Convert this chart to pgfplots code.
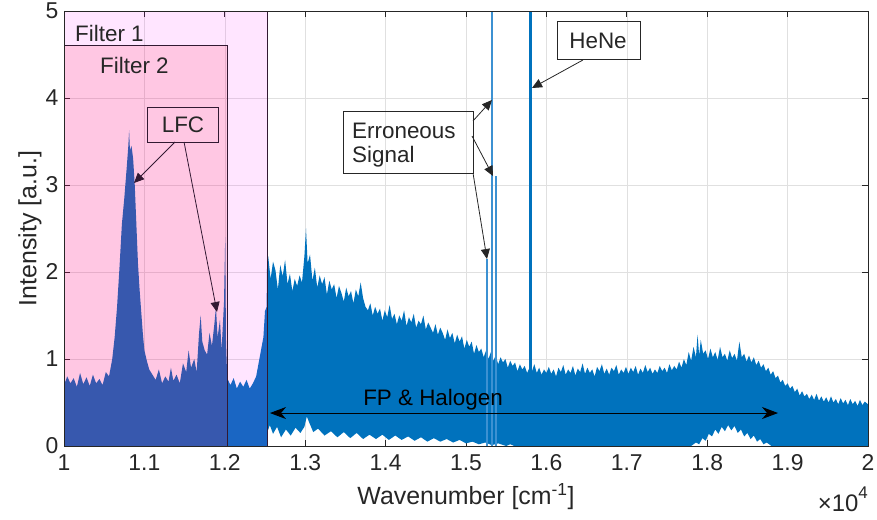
\documentclass[border=0pt]{standalone}
\usepackage{fontspec}
\setmainfont{Liberation Sans}
\usepackage{pgfplots}
\pgfplotsset{compat=1.18}
\usetikzlibrary{arrows.meta}
\definecolor{mblue}{RGB}{0,114,189}
\definecolor{lblue}{RGB}{60,145,210}
\definecolor{axc}{RGB}{38,38,38}
\definecolor{fbord}{RGB}{50,25,50}
\definecolor{fmag}{RGB}{255,0,255}
\definecolor{fred}{RGB}{255,0,40}
\begin{document}
\begin{tikzpicture}
\begin{axis}[
  scale only axis, width=804bp, height=435bp,
  xmin=1, xmax=2, ymin=0, ymax=5,
  xtick={1,1.1,1.2,1.3,1.4,1.5,1.6,1.7,1.8,1.9,2},
  xticklabels={1,1.1,1.2,1.3,1.4,1.5,1.6,1.7,1.8,1.9,2},
  ytick={0,1,2,3,4,5},
  yticklabels={0,1,2,3,4,5},
  grid=major, major grid style={draw=black!12, line width=0.6bp},
  tick align=inside,
  axis line style={draw=axc, line width=0.8bp},
  major tick style={draw=axc, line width=0.8bp},
  major tick length=6bp,
  tick label style={font=\fontsize{23}{27}\selectfont, text=axc},
  xticklabel style={yshift=-5bp},
  yticklabel style={xshift=-2bp},
  xlabel={Wavenumber [cm\textsuperscript{-1}]},
  ylabel={Intensity [a.u.]},
  label style={font=\fontsize{25}{30}\selectfont, text=axc},
  xlabel style={at={(axis description cs:0.5,-0.117)}, anchor=center},
  ylabel style={at={(axis description cs:-0.0423,0.5)}, anchor=center},
  clip mode=individual,
]
% spectrum (upper envelope, then lower envelope back)
\addplot[draw=none, fill=mblue] coordinates {
(1.000,0) (1.000,0.70) (1.004,0.80) (1.008,0.72) (1.012,0.78) (1.016,0.68) (1.020,0.84) (1.024,0.71) (1.028,0.79) (1.032,0.69) (1.036,0.82) (1.040,0.72) (1.044,0.77) (1.048,0.70) (1.052,0.85) (1.056,0.80)
(1.060,1.00) (1.063,1.25) (1.066,1.60) (1.069,2.05) (1.072,2.55) (1.075,2.85) (1.078,3.20) (1.080,3.45) (1.081,3.63) (1.082,3.40) (1.084,3.45) (1.086,3.30) (1.088,3.00) (1.090,2.55) (1.092,2.10) (1.094,1.80) (1.096,1.55) (1.098,1.30) (1.100,1.10) (1.103,0.98) (1.106,0.88) (1.110,0.82) (1.114,0.76) (1.118,0.88) (1.122,0.72) (1.126,0.80) (1.130,0.74) (1.133,0.90) (1.136,0.75) (1.140,0.82) (1.144,0.72) (1.148,0.95) (1.152,0.85) (1.155,1.10) (1.158,0.90) (1.162,1.00) (1.165,0.85) (1.168,1.30) (1.170,1.50) (1.172,1.20) (1.175,1.10) (1.178,1.05) (1.181,1.30) (1.184,1.15) (1.187,1.40) (1.189,1.60) (1.191,1.25) (1.194,1.45) (1.196,1.10) (1.199,1.65) (1.2005,2.40) (1.2015,1.20) (1.203,0.78) (1.207,0.70) (1.211,0.78) (1.215,0.66) (1.219,0.74) (1.223,0.68) (1.227,0.76) (1.231,0.66) (1.235,0.72) (1.239,0.80) (1.242,0.95) (1.245,1.10) (1.248,1.25) (1.250,1.55) (1.252,1.60)
(1.2525,2.05) (1.254,2.18) (1.257,1.92) (1.260,2.12) (1.263,2.02) (1.266,1.80) (1.269,2.08) (1.272,1.95) (1.275,2.14) (1.278,1.86) (1.281,1.98) (1.284,1.78) (1.287,1.92) (1.290,1.84) (1.293,1.96) (1.296,1.88) (1.299,2.18) (1.301,2.50) (1.303,2.10) (1.306,2.20) (1.309,1.90) (1.312,2.05) (1.315,1.82) (1.318,1.96) (1.321,1.86) (1.324,1.94) (1.327,1.74) (1.330,1.90) (1.333,1.80) (1.336,1.86) (1.339,1.70) (1.342,1.84) (1.345,1.76) (1.348,1.66) (1.351,1.82) (1.354,1.72) (1.357,1.78) (1.360,1.64) (1.363,1.80) (1.366,1.72) (1.369,1.88) (1.372,1.70) (1.375,1.60) (1.378,1.56) (1.381,1.64) (1.384,1.50) (1.387,1.60) (1.390,1.52) (1.393,1.58) (1.396,1.44) (1.399,1.56) (1.402,1.48) (1.405,1.62) (1.408,1.46) (1.411,1.52) (1.414,1.40) (1.417,1.50) (1.420,1.44) (1.423,1.56) (1.426,1.38) (1.429,1.48) (1.432,1.42) (1.435,1.52) (1.438,1.36) (1.441,1.44) (1.444,1.40) (1.447,1.50) (1.450,1.34) (1.453,1.42) (1.456,1.36) (1.459,1.30) (1.462,1.40) (1.465,1.28) (1.468,1.36) (1.471,1.30) (1.474,1.22) (1.477,1.34) (1.480,1.24) (1.483,1.30) (1.486,1.18) (1.489,1.28) (1.492,1.20) (1.495,1.26) (1.498,1.12) (1.501,1.22) (1.504,1.14) (1.507,1.20) (1.510,1.06) (1.513,1.16) (1.516,1.08) (1.519,1.12) (1.522,1.02) (1.525,1.10) (1.528,1.00) (1.531,1.08) (1.534,0.98) (1.537,1.04) (1.540,0.94) (1.543,1.02) (1.546,0.96) (1.549,1.00) (1.552,0.90) (1.555,0.98) (1.558,0.92) (1.561,0.96) (1.564,0.86) (1.567,0.94) (1.570,0.88) (1.573,0.92) (1.576,0.84) (1.579,0.90) (1.582,0.86) (1.585,0.94) (1.588,0.84) (1.591,0.90) (1.594,0.82) (1.597,0.88) (1.600,0.84)
(1.603,0.91) (1.606,0.83) (1.609,0.88) (1.612,0.80) (1.615,0.90) (1.618,0.85) (1.621,0.93) (1.624,0.82) (1.627,0.88) (1.630,0.84) (1.633,0.92) (1.636,0.81) (1.639,0.89) (1.642,0.85) (1.645,0.95) (1.648,0.83) (1.651,0.90) (1.654,0.84) (1.657,0.88) (1.660,0.80) (1.663,0.91) (1.666,0.86) (1.669,0.94) (1.672,0.83) (1.675,0.89) (1.678,0.82) (1.681,0.90) (1.684,0.86) (1.687,0.93) (1.690,0.82) (1.693,0.88) (1.696,0.84) (1.699,0.91) (1.702,0.83) (1.705,0.90) (1.708,0.85) (1.711,0.92) (1.714,0.82) (1.717,0.89) (1.720,0.84) (1.723,0.93) (1.726,0.85) (1.729,0.90) (1.732,0.83) (1.735,0.88) (1.738,0.84) (1.741,0.92) (1.744,0.86) (1.747,0.90) (1.750,0.84) (1.753,0.94) (1.756,0.87) (1.759,0.92) (1.762,0.88) (1.765,0.97) (1.768,0.90) (1.771,1.00) (1.774,0.93) (1.777,1.08) (1.780,0.98) (1.783,1.14) (1.786,1.02) (1.788,1.28) (1.790,1.04) (1.792,1.22) (1.795,1.06) (1.798,1.10) (1.801,1.00) (1.804,1.12) (1.807,1.02) (1.810,1.08) (1.813,0.99) (1.816,1.14) (1.819,1.02) (1.822,1.06) (1.825,0.98) (1.828,1.10) (1.831,1.01) (1.834,1.06) (1.837,0.98) (1.840,1.20) (1.843,1.02) (1.846,1.06) (1.849,0.97) (1.852,1.04) (1.855,0.96) (1.858,1.02) (1.861,0.93) (1.864,0.98) (1.867,0.90) (1.870,0.94) (1.873,0.86) (1.876,0.90) (1.879,0.82) (1.882,0.86) (1.885,0.78) (1.888,0.81) (1.891,0.73) (1.894,0.76) (1.897,0.69) (1.900,0.72) (1.903,0.66) (1.906,0.69) (1.909,0.62) (1.912,0.66) (1.915,0.58) (1.918,0.63) (1.921,0.57) (1.924,0.60) (1.927,0.54) (1.930,0.59) (1.933,0.53) (1.936,0.60) (1.939,0.52) (1.942,0.57) (1.945,0.51) (1.948,0.56) (1.951,0.50) (1.954,0.57) (1.957,0.50) (1.960,0.54) (1.963,0.48) (1.966,0.55) (1.969,0.49) (1.972,0.53) (1.975,0.47) (1.978,0.54) (1.981,0.48) (1.984,0.52) (1.987,0.46) (1.990,0.53) (1.993,0.47) (1.996,0.51) (2.000,0.48)
(2.000,0) (1.880,0) (1.874,0.04) (1.870,0.02) (1.866,0.08) (1.862,0.05) (1.858,0.12) (1.854,0.08) (1.850,0.15) (1.846,0.11) (1.842,0.19) (1.838,0.15) (1.834,0.23) (1.830,0.18) (1.826,0.24) (1.822,0.17) (1.818,0.22) (1.814,0.14) (1.810,0.19) (1.806,0.11) (1.802,0.14) (1.798,0.06) (1.794,0.09) (1.790,0.02) (1.786,0.04) (1.780,0) (1.560,0) (1.555,0.02) (1.550,0) (1.540,0.03) (1.532,0.01) (1.524,0.04) (1.516,0.02) (1.508,0.05) (1.500,0.03) (1.492,0.07) (1.484,0.04) (1.476,0.08) (1.468,0.05) (1.460,0.09) (1.452,0.05) (1.444,0.10) (1.436,0.06) (1.428,0.11) (1.420,0.07) (1.412,0.12) (1.404,0.07) (1.396,0.13) (1.388,0.08) (1.380,0.13) (1.372,0.08) (1.364,0.15) (1.356,0.09) (1.348,0.16) (1.340,0.10) (1.332,0.17) (1.324,0.12) (1.316,0.20) (1.310,0.16) (1.305,0.27) (1.302,0.34) (1.299,0.22) (1.294,0.15) (1.288,0.21) (1.282,0.12) (1.276,0.19) (1.270,0.10) (1.265,0.22) (1.260,0.14) (1.256,0.24) (1.2525,0.15) (1.2525,0) (1.000,0)
};
% erroneous signals and HeNe line
\addplot[lblue, line width=2bp] coordinates {(1.5265,0) (1.5265,2.15)};
\addplot[lblue, line width=2bp] coordinates {(1.5320,0) (1.5320,5)};
\addplot[lblue, line width=2bp] coordinates {(1.5370,0) (1.5370,3.10)};
\addplot[mblue, line width=2.4bp] coordinates {(1.5800,0) (1.5800,5)};
% filters
\fill[fmag, fill opacity=0.1] (axis cs:1,0) rectangle (axis cs:1.2525,5);
\fill[fred, fill opacity=0.13] (axis cs:1,0) rectangle (axis cs:1.203,4.6);
\draw[fbord, line width=0.9bp] (axis cs:1.2525,0) -- (axis cs:1.2525,5);
\draw[fbord, line width=0.9bp] (axis cs:1,4.6) -- (axis cs:1.203,4.6) -- (axis cs:1.203,0);
\node[anchor=west, font=\fontsize{22.5}{27}\selectfont, text=axc, inner sep=0] at (axis cs:1.0137,4.736) {Filter 1};
\node[anchor=west, font=\fontsize{22.5}{27}\selectfont, text=axc, inner sep=0] at (axis cs:1.0448,4.368) {Filter 2};
% LFC
\draw[fbord, line width=0.8bp] (axis cs:1.1032,3.897) rectangle (axis cs:1.1915,3.494);
\node[font=\fontsize{22.5}{27}\selectfont, text=axc, inner sep=0] at (axis cs:1.148,3.69) {LFC};
\draw[fbord, line width=0.8bp, -{Triangle[length=10bp,width=9bp]}] (axis cs:1.1381,3.494) -- (axis cs:1.0871,3.023);
\draw[fbord, line width=0.8bp, -{Triangle[length=10bp,width=9bp]}] (axis cs:1.1493,3.494) -- (axis cs:1.1903,1.54);
% Erroneous signal
\draw[axc, line width=0.8bp] (axis cs:1.3470,3.85) rectangle (axis cs:1.5087,3.138);
\node[anchor=west, font=\fontsize{22.5}{27}\selectfont, text=axc, inner sep=0] at (axis cs:1.3582,3.62) {Erroneous};
\node[anchor=west, font=\fontsize{22.5}{27}\selectfont, text=axc, inner sep=0] at (axis cs:1.3582,3.32) {Signal};
\draw[axc, line width=0.8bp, -{Triangle[length=10bp,width=9bp]}] (axis cs:1.5087,3.736) -- (axis cs:1.5323,3.977);
\draw[axc, line width=0.8bp, -{Triangle[length=10bp,width=9bp]}] (axis cs:1.5075,3.563) -- (axis cs:1.5336,3.103);
\draw[axc, line width=0.8bp, -{Triangle[length=10bp,width=9bp]}] (axis cs:1.5087,3.138) -- (axis cs:1.5261,2.149);
% HeNe
\draw[axc, line width=0.8bp] (axis cs:1.6132,4.885) rectangle (axis cs:1.7164,4.448);
\node[font=\fontsize{22.5}{27}\selectfont, text=axc, inner sep=0] at (axis cs:1.6642,4.66) {HeNe};
\draw[axc, line width=0.8bp, -{Triangle[length=10bp,width=9bp]}] (axis cs:1.6455,4.437) -- (axis cs:1.5821,4.115);
% FP & Halogen
\draw[black, line width=1bp, {Stealth[length=16bp,width=12bp,inset=5bp]}-{Stealth[length=16bp,width=12bp,inset=5bp]}] (axis cs:1.2562,0.379) -- (axis cs:1.8881,0.379);
\node[font=\fontsize{22.5}{27}\selectfont, text=black, inner sep=0] at (axis cs:1.459,0.53) {FP \& Halogen};
% frame
\draw[axc, line width=0.8bp] (rel axis cs:0,0) rectangle (rel axis cs:1,1);
\coordinate (ll) at (rel axis cs:0,0);
\coordinate (ur) at (rel axis cs:1,1);
\node[anchor=east, text=axc, inner sep=0] at (axis description cs:1,-0.122) {\fontsize{24}{28}\selectfont ×10\raisebox{0.55em}{\fontsize{17}{20}\selectfont 4}};
\end{axis}
\pgfresetboundingbox
\path ([shift={(-64bp,-74bp)}]ll) rectangle ([shift={(9bp,11bp)}]ur);
\end{tikzpicture}
\end{document}
